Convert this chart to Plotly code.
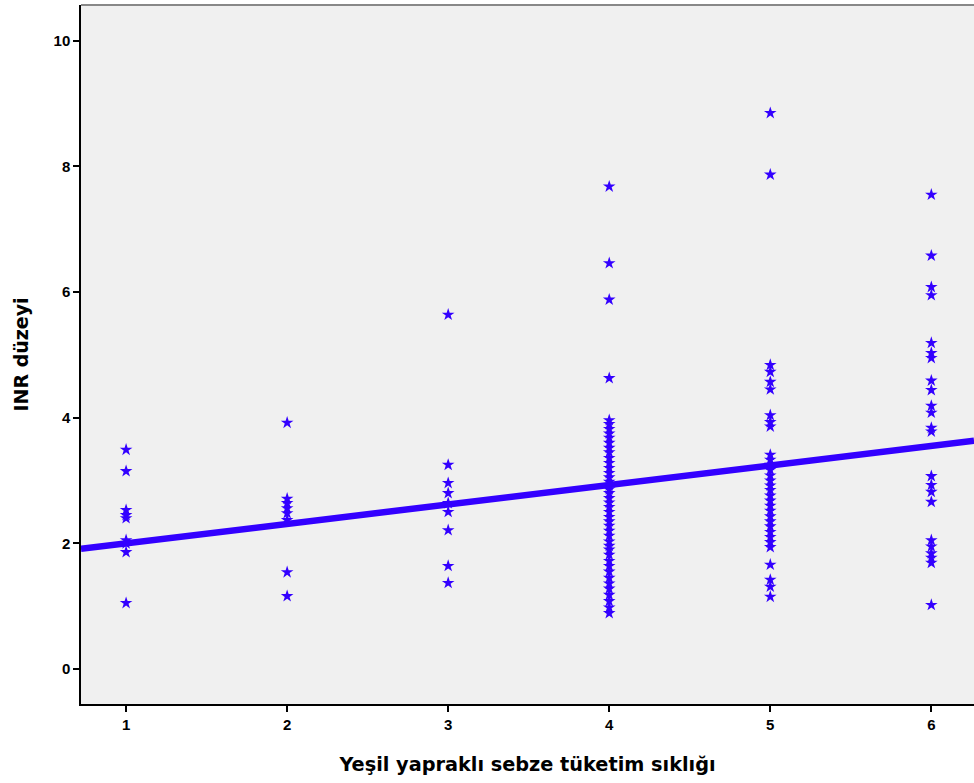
import plotly.graph_objects as go

# Data
freq_1 = [3.49, 3.15, 2.53, 2.45, 2.40, 2.05, 2.00, 1.86, 1.05]
freq_2 = [3.92, 2.71, 2.64, 2.56, 2.48, 2.37, 1.54, 1.16]
freq_3 = [5.64, 3.25, 2.96, 2.80, 2.64, 2.50, 2.21, 1.64, 1.37]
freq_4 = [7.68, 6.46, 5.88, 4.63, 3.96, 3.90, 3.82, 3.75, 3.68, 3.60, 3.52, 3.45,
          3.36, 3.28, 3.20, 3.12, 3.05, 2.98, 2.92, 2.86, 2.80, 2.72, 2.65, 2.58,
          2.50, 2.42, 2.35, 2.28, 2.20, 2.12, 2.03, 1.96, 1.90, 1.82, 1.72, 1.64,
          1.55, 1.45, 1.36, 1.28, 1.18, 1.08, 0.98, 0.89]
freq_5 = [8.85, 7.87, 4.84, 4.73, 4.57, 4.45, 4.04, 3.93, 3.86, 3.41, 3.33, 3.25,
          3.17, 3.08, 3.00, 2.92, 2.85, 2.76, 2.68, 2.60, 2.52, 2.43, 2.35, 2.27,
          2.18, 2.10, 2.02, 1.94, 1.66, 1.42, 1.31, 1.15]
freq_6 = [7.55, 6.58, 6.08, 5.95, 5.19, 5.03, 4.95, 4.59, 4.44, 4.19, 4.08, 3.84,
          3.78, 3.07, 2.93, 2.82, 2.66, 2.05, 1.95, 1.84, 1.77, 1.69, 1.02]

categories = [1, 2, 3, 4, 5, 6]
groups = [freq_1, freq_2, freq_3, freq_4, freq_5, freq_6]

fit_intercept = 1.69
fit_slope = 0.31

x_ticks = [1, 2, 3, 4, 5, 6]
y_ticks = [0, 2, 4, 6, 8, 10]

x_range = [0.72, 6.265]
y_range = [-0.557, 10.57]

xs, ys = [], []
for c, g in zip(categories, groups):
    xs += [c] * len(g)
    ys += g

color = "#3300FF"

fig = go.Figure()
fig.add_trace(go.Scatter(
    x=x_range, y=[fit_intercept + fit_slope * v for v in x_range],
    mode="lines", line=dict(color=color, width=6.5), hoverinfo="skip",
    showlegend=False))
fig.add_trace(go.Scatter(
    x=xs, y=ys, mode="markers",
    marker=dict(symbol="star", size=9.5, color=color, line=dict(width=0)),
    showlegend=False))

tick_family = "Liberation Sans, Arial, sans-serif"
title_family = "DejaVu Sans, Verdana, sans-serif"
fig.update_layout(
    width=974, height=783,
    margin=dict(l=81, r=0, t=5, b=79, autoexpand=False),
    plot_bgcolor="#F0F0F0", paper_bgcolor="white",
    font=dict(family=tick_family, color="black"),
    xaxis=dict(range=x_range, tickvals=x_ticks, ticks="outside", ticklen=6,
               tickwidth=1.5, tickcolor="black", showgrid=False, zeroline=False,
               showline=True, linecolor="black", linewidth=1.5,
               ticktext=[f"<b>{t}</b>" for t in x_ticks],
               tickfont=dict(size=15, family=tick_family, color="black"),
               title=dict(text="<b>Yeşil yapraklı sebze tüketim sıklığı</b>",
                          font=dict(size=19.3, family=title_family), standoff=26)),
    yaxis=dict(range=y_range, tickvals=y_ticks, ticks="outside", ticklen=6,
               tickwidth=1.5, tickcolor="black", showgrid=False, zeroline=False,
               showline=True, linecolor="black", linewidth=1.5,
               ticktext=[f"<b>{t}</b>" for t in y_ticks],
               tickfont=dict(size=15, family=tick_family, color="black"),
               title=dict(text="<b>INR düzeyi</b>",
                          font=dict(size=19, family=title_family), standoff=20)),
)
fig.add_shape(type="line", xref="paper", yref="paper", x0=0, x1=1, y0=1, y1=1,
              line=dict(color="#888888", width=2))
fig.write_html("out.html", config={"displayModeBar": False},
               post_script="document.body.style.margin='0';document.body.style.overflow='hidden';")
